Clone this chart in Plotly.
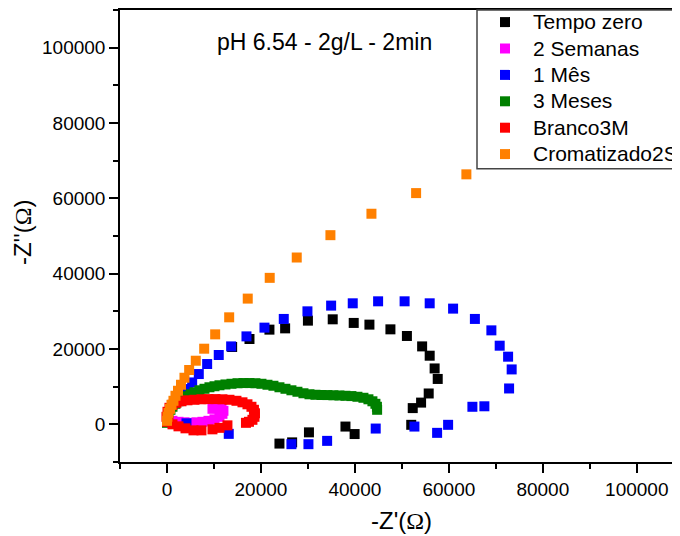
import plotly.graph_objects as go

series_names = ["Tempo zero", "2 Semanas", "1 Mês", "3 Meses", "Branco3M", "Cromatizado2S"]
series_colors = ["#000000", "#FF00FF", "#0000FF", "#008000", "#FF0000", "#FF8000"]

tempo_zero_x = [13870, 17560, 21810, 25150, 30000, 35280, 39750, 43090, 47560, 51070, 54310, 55920,
                56970, 57630, 55710, 54090, 52310, 51990, 39940, 37990, 30220, 26640, 23940]
tempo_zero_y = [20540, 22660, 25140, 25480, 27530, 27880, 26920, 26470, 25220, 23460, 20690, 18220,
                14840, 12050, 8190, 5770, 4310, -130, -2580, -590, -2130, -4790, -5110]

semanas2_x = [1170, 2450, 3720, 5000, 6280, 7550, 8830, 10110, 11170, 11810, 12020, 11600, 10750, 9680]
semanas2_y = [930, 670, 530, 400, 530, 670, 930, 1330, 2000, 2790, 3590, 4120, 4260, 4120]

mes1_x = [3940, 4430, 5360, 6770, 8550, 11020, 13660, 16920, 20750, 24860, 29900, 34940, 39540, 44940,
          50580, 55920, 60900, 65540, 69050, 70820, 72610, 73370, 72820, 67560, 65010, 59840, 57500,
          52670, 44430, 34090, 30110, 26490, 13150, 4150]
mes1_y = [7050, 9360, 11120, 13350, 16010, 18410, 20690, 23350, 25670, 27980, 30000, 31520, 32130, 32660,
          32660, 32130, 30720, 27980, 24950, 20880, 17960, 14580, 9520, 4790, 4660, -130, -2260,
          -590, -1120, -4390, -5270, -5270, -2530, 270]

meses3_x = [0, 110, 320, 740, 1170, 1810, 2450, 3300, 4150, 5000, 5850, 6920, 7980, 9040, 10110, 11170,
            12450, 13730, 15010, 16280, 17560, 18830, 20110, 21390, 22660, 23940, 25220, 26490, 27770,
            29050, 30330, 31600, 32880, 34150, 35430, 36710, 37990, 39260, 40540, 41820, 42880, 43730,
            44370, 44690, 44730]
meses3_y = [400, 1460, 3060, 3860, 4660, 5450, 6120, 6780, 7450, 7980, 8510, 9040, 9440, 9840, 10110, 10370,
            10590, 10770, 10910, 10960, 10960, 10910, 10770, 10510, 10240, 9840, 9440, 9040, 8650,
            8250, 7980, 7850, 7790, 7770, 7710, 7660, 7580, 7500, 7320, 7050, 6650, 6120,
            5450, 4660, 3860]

branco_x = [0, 320, 1170, 2450, 3940, 5640, 7340, 9680, 11170, 12870,
            -110, 110, 530, 1170, 2020, 3090, 4360, 5850, 7340, 8830, 10320, 11810, 13300, 14790,
            16070, 17130, 17980, 18510, 18730, 18620, 18190, 17450, 16810]
branco_y = [670, 930, 0, -530, -1060, -1600, -1600, -1330, -930, -270,
            2000, 3330, 4390, 5190, 5720, 6120, 6380, 6520, 6650, 6700, 6700, 6650, 6520, 6250,
            5850, 5320, 4660, 3860, 2930, 2000, 1200, 670, 400]

cromat_x = [0, 100, 320, 640, 960, 1380, 1810, 2340, 2980, 3720, 4720, 6130, 7920, 10260, 13240,
            17190, 21870, 27620, 34790, 43520, 53030, 63730]
cromat_y = [930, 2000, 3060, 4120, 5190, 6250, 7580, 8910, 10510, 12370, 14420, 16890, 20080, 23890, 28410,
            33380, 38890, 44290, 50220, 55910, 61390, 66370]

xs = [tempo_zero_x, semanas2_x, mes1_x, meses3_x, branco_x, cromat_x]
ys = [tempo_zero_y, semanas2_y, mes1_y, meses3_y, branco_y, cromat_y]

tick_vals = [0, 20000, 40000, 60000, 80000, 100000]
tick_text = ["0", "20000", "40000", "60000", "80000", "100000"]

FONT = "Liberation Sans, Arial, sans-serif"

fig = go.Figure()
for name, color, x, y in zip(series_names, series_colors, xs, ys):
    fig.add_trace(go.Scatter(x=x, y=y, mode="markers",
                             name="<span style='font-size:21px'>" + name + "</span>",
                             marker=dict(symbol="square", size=10, color=color, line=dict(width=0))))

axis_common = dict(
    showgrid=False, zeroline=False, showline=True, linecolor="black", linewidth=1.5,
    ticks="outside", ticklen=9, tickwidth=1.5, tickcolor="black",
    tickvals=tick_vals, ticktext=tick_text,
    tickfont=dict(family=FONT, size=19, color="black"),
    minor=dict(ticks="outside", ticklen=5, tickwidth=1.5, tickcolor="black", dtick=10000, tick0=0),
)

# the page body adds an 8px margin, so the figure is sized to fit inside the window
fig.update_layout(
    width=672, height=528,
    margin=dict(l=112, r=0, t=2, b=74, autoexpand=False),
    paper_bgcolor="white", plot_bgcolor="white",
    xaxis=dict(range=[-10000, 109200], mirror=True, **axis_common),
    yaxis=dict(range=[-10000, 110000], **axis_common),
    showlegend=True,
    legend=dict(x=0.6375, y=1.0135, xanchor="left", yanchor="top", bgcolor="rgba(255,255,255,0)",
                borderwidth=0,
                font=dict(family=FONT, size=18, color="black"),
                itemwidth=46, tracegroupgap=0),
)

fig.add_shape(type="rect", xref="paper", yref="paper", x0=0.6375, x1=1.02, y0=0.649, y1=1.0,
              fillcolor="white", line=dict(color="#444444", width=1.5), layer="above")

fig.add_annotation(text="pH 6.54 - 2g/L - 2min", x=0.366, y=0.929, xref="paper", yref="paper",
                   xanchor="center", yanchor="middle",
                   showarrow=False, font=dict(family=FONT, size=23, color="black"))
fig.add_annotation(text="-Z'(<span style='font-family:Liberation Serif'>Ω</span>)", x=0.502, y=-0.1305,
                   xref="paper", yref="paper", xanchor="center", yanchor="middle", showarrow=False,
                   font=dict(family=FONT, size=24, color="black"))
fig.add_annotation(text="-Z''(<span style='font-family:Liberation Serif'>Ω</span>)", x=-0.173, y=0.509,
                   xref="paper", yref="paper", xanchor="center", yanchor="middle", showarrow=False,
                   textangle=-90, font=dict(family=FONT, size=24, color="black"))

fig.write_html("out.html")
